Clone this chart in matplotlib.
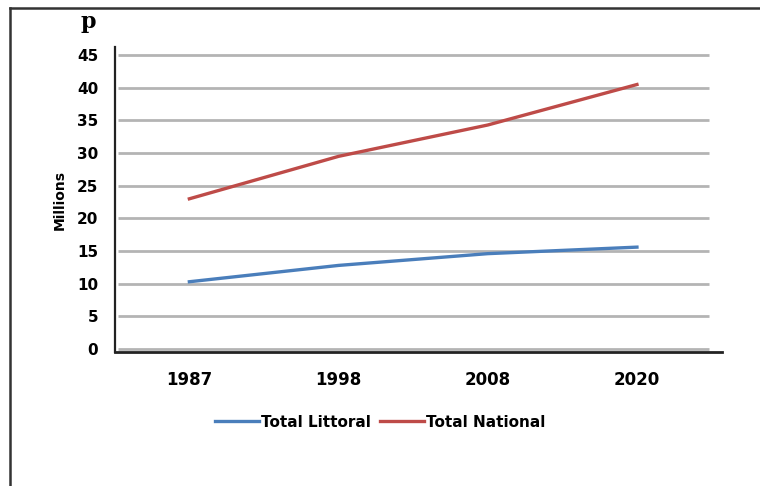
import matplotlib
matplotlib.use("Agg")
import matplotlib.pyplot as plt
from matplotlib.lines import Line2D

# datos
anios = ["1987", "1998", "2008", "2020"]
total_littoral = [10.3, 12.8, 14.6, 15.6]
total_national = [23.0, 29.5, 34.3, 40.5]
yticks = [0, 5, 10, 15, 20, 25, 30, 35, 40, 45]

azul = "#4a7ebb"
rojo = "#be4b48"

plt.rcParams["font.family"] = ["DejaVu Sans"]
plt.rcParams["font.weight"] = "bold"

fig = plt.figure(figsize=(7.6, 4.86), dpi=100)
ax = fig.add_axes([0.151, 0.2757, 0.799, 0.627])

x = list(range(len(anios)))

# lineas de grilla
ax.hlines(yticks, -0.476, 3.48, color="#b4b4b4", lw=2, zorder=1)

ax.plot(x, total_littoral, color=azul, lw=2.4, label="Total Littoral", zorder=3)
ax.plot(x, total_national, color=rojo, lw=2.4, label="Total National", zorder=3)

ax.set_xlim(-0.5, 3.57)
ax.set_ylim(-0.46, 46.2)
ax.set_xticks(x)
ax.set_xticklabels(anios, fontsize=12, fontweight="bold")
ax.set_yticks(yticks)
ax.set_yticklabels([str(v) for v in yticks], fontsize=11, fontweight="bold")
ax.tick_params(axis="both", length=0)
ax.tick_params(axis="x", pad=14)
ax.tick_params(axis="y", pad=12)

for s in ["top", "right"]:
    ax.spines[s].set_visible(False)
ax.spines["left"].set_color("#222222")
ax.spines["left"].set_linewidth(1.6)
ax.spines["bottom"].set_color("#222222")
ax.spines["bottom"].set_linewidth(2)

ax.set_ylabel("Millions", fontsize=10, fontweight="bold", labelpad=7)

fig.text(0.116, 0.955, "p", fontsize=16, fontweight="bold", family="DejaVu Serif",
         ha="center", va="center")

# leyenda abajo
handles = [Line2D([0], [0], color=azul, lw=2.4), Line2D([0], [0], color=rojo, lw=2.4)]
fig.legend(handles, ["Total Littoral", "Total National"], loc="center",
           bbox_to_anchor=(0.5, 0.131), ncol=2, frameon=False,
           handlelength=2.9, handletextpad=0.1, columnspacing=0.6,
           prop={"weight": "bold", "size": 11})

# marco exterior
fig.add_artist(Line2D([0.013, 1.0], [0.984, 0.984], color="#333333", lw=1.8,
                      transform=fig.transFigure))
fig.add_artist(Line2D([0.013, 0.013], [0.0, 0.984], color="#333333", lw=1.8,
                      transform=fig.transFigure))

fig.savefig("out.png", dpi=100, facecolor="white")
